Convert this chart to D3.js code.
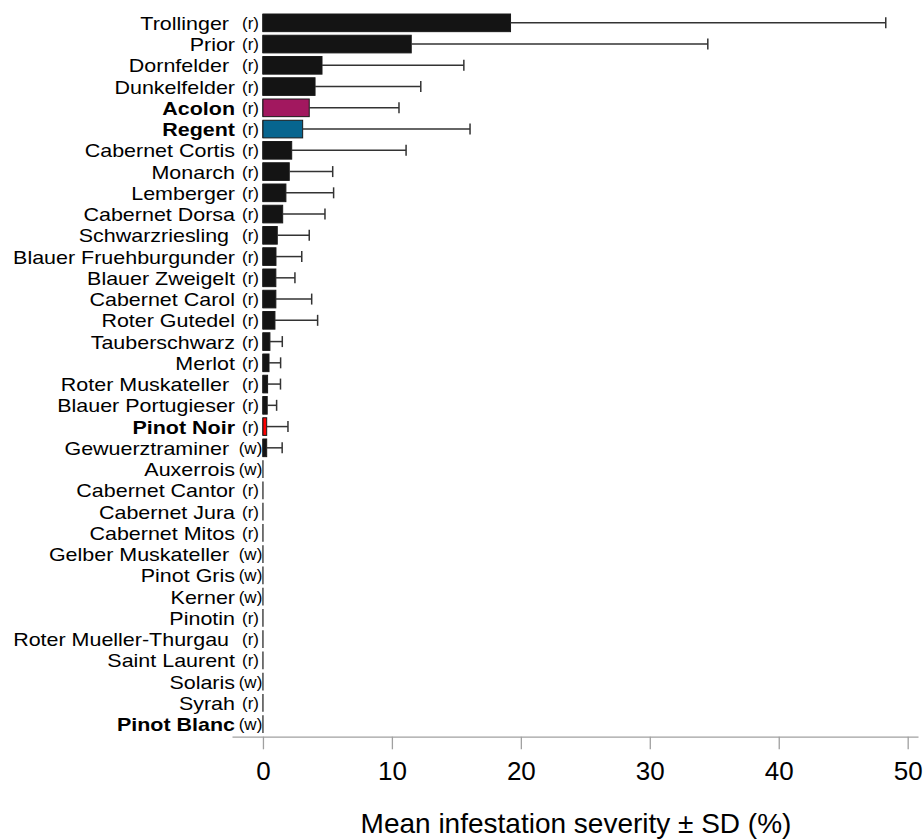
<!DOCTYPE html>
<html>
<head>
<meta charset="utf-8">
<script src="https://cdn.jsdelivr.net/npm/d3@7"></script>
<style>
  html, body { margin: 0; padding: 0; background: #fff; }
  svg { display: block; }
  text { font-family: "Liberation Sans", Arial, sans-serif; }
</style>
</head>
<body>
<script>
// ---- data ----
const cultivars = ["Trollinger ", "Prior", "Dornfelder ", "Dunkelfelder", "Acolon", "Regent",
  "Cabernet Cortis", "Monarch", "Lemberger", "Cabernet Dorsa", "Schwarzriesling ",
  "Blauer Fruehburgunder", "Blauer Zweigelt", "Cabernet Carol", "Roter Gutedel",
  "Tauberschwarz", "Merlot", "Roter Muskateller ", "Blauer Portugieser", "Pinot Noir",
  "Gewuerztraminer ", "Auxerrois", "Cabernet Cantor", "Cabernet Jura", "Cabernet Mitos",
  "Gelber Muskateller ", "Pinot Gris", "Kerner", "Pinotin", "Roter Mueller-Thurgau ",
  "Saint Laurent", "Solaris", "Syrah", "Pinot Blanc"];
const wineType = ["r","r","r","r","r","r","r","r","r","r","r","r","r","r","r","r","r","r","r","r",
  "w","w","r","r","r","w","w","w","r","r","r","w","r","w"];
const meanSeverity = [19.2, 11.5, 4.58, 4.04, 3.59, 3.08, 2.23, 2.04, 1.78, 1.53, 1.11,
  1.01, 1.0, 1.0, 0.93, 0.54, 0.47, 0.36, 0.33, 0.29, 0.29,
  0, 0, 0, 0, 0, 0, 0, 0, 0, 0, 0, 0, 0];
const sdSeverity = [29.1, 23.0, 11.0, 8.2, 6.96, 12.98, 8.87, 3.37, 3.7, 3.28, 2.48,
  2.0, 1.48, 2.78, 3.31, 0.96, 0.9, 1.0, 0.73, 1.65, 1.2,
  0, 0, 0, 0, 0, 0, 0, 0, 0, 0, 0, 0, 0];
const highlighted = ["Acolon", "Regent", "Pinot Noir", "Pinot Blanc"];
const highlightColor = {"Acolon": "#a2185f", "Regent": "#07658f", "Pinot Noir": "#ff0000"};
const xTicks = [0, 10, 20, 30, 40, 50];
const xTitle = "Mean infestation severity \u00b1 SD (%)";

const rows = cultivars.map((c, i) => ({
  name: c, key: c.trim(), type: wineType[i], mean: meanSeverity[i], sd: sdSeverity[i]
}));

// ---- layout ----
const W = 924, H = 839;
const svg = d3.select("body").append("svg").attr("width", W).attr("height", H);

const x = d3.scaleLinear().domain([-2.4, 50.8]).range([232, 918]);
const y = d3.scaleBand().domain(rows.map(d => d.key)).range([12.2, 734.7])
  .paddingInner(0.17).paddingOuter(0.085);
const axisY = 736.7;
const yc = d => y(d.key) + y.bandwidth() / 2;

// baseline segments (visible for zero-valued rows)
svg.append("g").attr("stroke", "#1a1a1a").attr("stroke-width", 1.2)
  .selectAll("line").data(rows).join("line")
  .attr("x1", x(0)).attr("x2", x(0))
  .attr("y1", d => y(d.key)).attr("y2", d => y(d.key) + y.bandwidth());

// bars
svg.append("g").selectAll("rect").data(rows.filter(d => d.mean > 0)).join("rect")
  .attr("x", x(0))
  .attr("y", d => y(d.key))
  .attr("width", d => x(d.mean) - x(0))
  .attr("height", y.bandwidth())
  .attr("fill", d => highlightColor[d.key] || "#141414")
  .attr("stroke", "#1a1a1a")
  .attr("stroke-width", 1);

// error bars
const eb = svg.append("g").attr("stroke", "#333").attr("stroke-width", 1.5)
  .selectAll("g").data(rows.filter(d => d.sd > 0)).join("g");
eb.append("line")
  .attr("x1", d => x(d.mean)).attr("x2", d => x(d.mean + d.sd))
  .attr("y1", yc).attr("y2", yc);
eb.append("line")
  .attr("x1", d => x(d.mean + d.sd)).attr("x2", d => x(d.mean + d.sd))
  .attr("y1", d => yc(d) - 5.5).attr("y2", d => yc(d) + 5.5);

// category labels (slightly condensed height so rows don't collide)
svg.append("g").selectAll("text").data(rows).join("text")
  .attr("transform", d => `translate(235,${yc(d)}) scale(1.13,1)`)
  .attr("dy", "0.37em")
  .attr("text-anchor", "end")
  .style("white-space", "pre")
  .attr("font-size", 19)
  .attr("font-weight", d => highlighted.includes(d.key) ? "bold" : "normal")
  .attr("fill", "#000")
  .text(d => d.name);

// type markers
svg.append("g").selectAll("text").data(rows).join("text")
  .attr("x", 250.5)
  .attr("y", yc)
  .attr("dy", "0.35em")
  .attr("text-anchor", "middle")
  .attr("font-size", 17)
  .attr("fill", "#000")
  .text(d => "(" + d.type + ")");

// x axis
const xAxis = d3.axisBottom(x).tickValues(xTicks).tickSize(12.6).tickPadding(12).tickSizeOuter(0);
const gx = svg.append("g").attr("transform", `translate(0,${axisY})`).call(xAxis);
gx.select(".domain").attr("stroke", "#a0a0a0").attr("stroke-width", 1.3);
gx.selectAll(".tick line").attr("stroke", "#a0a0a0").attr("stroke-width", 1.3);
gx.selectAll(".tick text").attr("font-size", 26).attr("fill", "#000")
  .attr("font-family", "Liberation Sans, Arial, sans-serif");

// x title
svg.append("text")
  .attr("x", 576).attr("y", 833)
  .attr("text-anchor", "middle")
  .attr("font-size", 28)
  .attr("fill", "#000")
  .text(xTitle);
</script>
</body>
</html>
